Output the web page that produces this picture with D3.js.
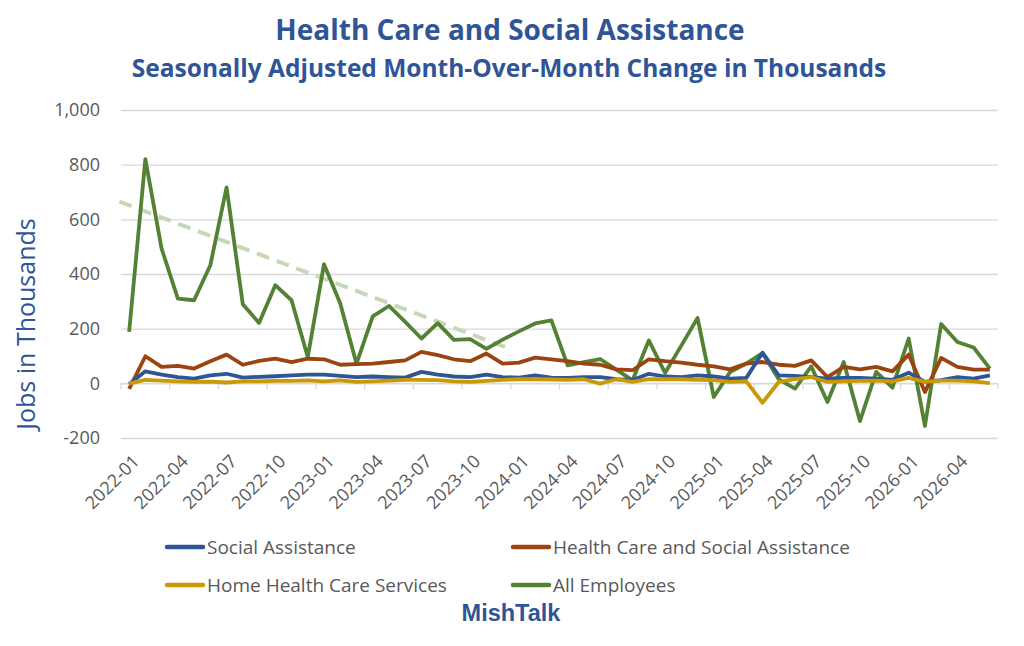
<!DOCTYPE html>
<html>
<head>
<meta charset="utf-8">
<script src="https://cdn.jsdelivr.net/npm/d3@7"></script>
<style>
  body { margin: 0; background: #fff; }
  svg { display: block; }
  text { font-family: "Open Sans", Lato, sans-serif; }
</style>
</head>
<body>
<svg id="chart" width="1024" height="646"></svg>
<script>
// months 2022-01 .. 2026-06
const months = d3.range(54).map(i => {
    const yr = 2022 + Math.floor(i / 12);
    const m = (i % 12) + 1;
    return `${yr}-${String(m).padStart(2, "0")}`;
});

const socialAssistance = [-3, 44, 32, 23, 17, 29, 35, 21, 24, 26, 29, 32, 32, 27, 23, 25, 23, 21, 42, 32,
    25, 23, 32, 23, 21, 29, 21, 20, 23, 23, 15, 12, 35, 25, 23, 29, 25, 17, 20, 112,
    29, 27, 23, 17, 20, 20, 17, 13, 39, 5, 12, 23, 17, 29];

const healthCareSocial = [-20, 99, 60, 64, 54, 81, 105, 68, 82, 90, 78, 90, 88, 68, 70, 72, 78, 84, 115, 103,
    88, 81, 109, 72, 76, 94, 88, 81, 72, 68, 51, 48, 88, 81, 76, 68, 62, 51, 72, 78,
    68, 64, 84, 23, 60, 51, 60, 44, 105, -32, 93, 60, 50, 50];

const homeHealth = [-1, 13, 10, 7, 5, 6, 3, 7, 7, 9, 9, 11, 7, 11, 5, 7, 10, 13, 13, 12,
    7, 5, 9, 13, 15, 15, 14, 13, 15, -1, 15, 5, 15, 15, 15, 13, 12, 5, 7, -71,
    5, 15, 23, 5, 7, 9, 10, 7, 20, 5, 10, 10, 7, 1];

const allEmployees = [188, 820, 493, 310, 304, 432, 717, 289, 221, 359, 304, 96, 436, 292, 72, 245, 283, 225, 164, 220,
    159, 162, 126, 160, 190, 219, 230, 66, 78, 89, 50, 11, 157, 38, 138, 239, -50, 41, 72, 111,
    15, -19, 62, -68, 78, -138, 42, -16, 164, -156, 217, 151, 131, 54];

// hand drawn trend arrow, in month index / value units
const trendFrom = [-0.6, 665];
const trendTo = [23.5, 125];

const yTicks = [-200, 0, 200, 400, 600, 800, 1000];

const series = [
    { name: "Social Assistance", values: socialAssistance, color: "#2f5597" },
    { name: "Health Care and Social Assistance", values: healthCareSocial, color: "#9c440f" },
    { name: "Home Health Care Services", values: homeHealth, color: "#c99a06" },
    { name: "All Employees", values: allEmployees, color: "#548235" }
];

const svg = d3.select("#chart");
const plotLeft = 121, plotRight = 998, plotTop = 110, plotBottom = 438;

const x = d3.scaleBand().domain(months).range([plotLeft, plotRight]);
const y = d3.scaleLinear().domain([-200, 1000]).range([plotBottom, plotTop]);
const cx = i => x(months[0]) + x.bandwidth() / 2 + i * x.bandwidth();

// titles
svg.append("text")
    .attr("x", 510).attr("y", 40)
    .attr("text-anchor", "middle")
    .style("font-size", "28px").style("font-weight", "bold")
    .attr("fill", "#2f5597")
    .text("Health Care and Social Assistance");

svg.append("text")
    .attr("x", 509).attr("y", 77)
    .attr("text-anchor", "middle")
    .style("font-size", "24.5px").style("font-weight", "bold")
    .attr("fill", "#2f5597")
    .text("Seasonally Adjusted Month-Over-Month Change in Thousands");

// y gridlines and labels
const fmt = d3.format(",");
const yAxis = svg.append("g")
    .attr("transform", `translate(${plotLeft},0)`)
    .call(d3.axisLeft(y).tickValues(yTicks).tickSize(-(plotRight - plotLeft))
        .tickFormat(d => fmt(d).replace("\u2212", "-")));
yAxis.select(".domain").remove();
yAxis.selectAll(".tick line").attr("stroke", "#d9d9d9").attr("stroke-width", 1.3);
yAxis.selectAll(".tick text")
    .attr("x", -21)
    .attr("fill", "#595959")
    .style("font-size", "18px");

svg.append("text")
    .attr("transform", "translate(26,324) rotate(-90)")
    .attr("text-anchor", "middle")
    .attr("dy", "0.35em")
    .style("font-size", "25px")
    .attr("fill", "#2f5597")
    .text("Jobs in Thousands");

// category axis on zero line
const zeroY = y(0);
svg.append("line")
    .attr("x1", plotLeft).attr("x2", plotRight)
    .attr("y1", zeroY).attr("y2", zeroY)
    .attr("stroke", "#d9d9d9").attr("stroke-width", 1.3);

const tickMonths = months.filter((m, i) => i % 3 === 0);
svg.append("g").selectAll("line")
    .data(tickMonths.concat(["end"]))
    .join("line")
    .attr("x1", d => d === "end" ? plotRight : x(d))
    .attr("x2", d => d === "end" ? plotRight : x(d))
    .attr("y1", zeroY).attr("y2", zeroY + 6)
    .attr("stroke", "#d9d9d9").attr("stroke-width", 1.3);

svg.append("g").selectAll("text")
    .data(tickMonths)
    .join("text")
    .attr("transform", d => `translate(${x(d) + x.bandwidth() / 2 + 7},${plotBottom + 20}) rotate(-45)`)
    .attr("text-anchor", "end")
    .attr("dy", "0.35em")
    .attr("fill", "#595959")
    .style("font-size", "18px")
    .text(d => d);

// trend arrow
svg.append("line")
    .attr("x1", cx(trendFrom[0])).attr("y1", y(trendFrom[1]))
    .attr("x2", cx(trendTo[0])).attr("y2", y(trendTo[1]))
    .attr("stroke", "#c5d8b8")
    .attr("stroke-width", 4)
    .attr("stroke-dasharray", "13 8");

// lines
const line = d3.line()
    .x((d, i) => cx(i))
    .y(d => y(d));

const order = [3, 1, 0, 2];
svg.append("g").selectAll("path")
    .data(order.map(k => series[k]))
    .join("path")
    .attr("fill", "none")
    .attr("stroke", d => d.color)
    .attr("stroke-width", 3.8)
    .attr("stroke-linejoin", "round")
    .attr("d", d => line(d.values));

// legend
const legendPos = [[167, 547], [513, 547], [167, 585], [513, 585]];
const legend = svg.append("g").selectAll("g")
    .data(series)
    .join("g")
    .attr("transform", (d, i) => `translate(${legendPos[i][0]},${legendPos[i][1]})`);
legend.append("line")
    .attr("x1", 0).attr("x2", 36)
    .attr("stroke", d => d.color)
    .attr("stroke-width", 4.5)
    .attr("stroke-linecap", "round");
legend.append("text")
    .attr("x", 40).attr("dy", "0.35em")
    .attr("fill", "#595959")
    .style("font-size", "19px")
    .text(d => d.name);

svg.append("text")
    .attr("x", 511).attr("y", 621)
    .attr("text-anchor", "middle")
    .style("font-family", "'Liberation Sans', Arial, sans-serif")
    .style("font-size", "23.5px").style("font-weight", "bold")
    .attr("fill", "#2f5597")
    .text("MishTalk");
</script>
</body>
</html>
